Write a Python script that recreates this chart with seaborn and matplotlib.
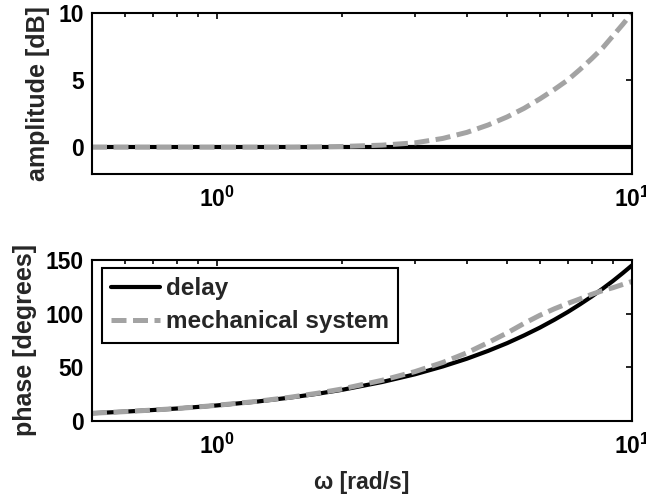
import numpy as np
import pandas as pd
import matplotlib
matplotlib.use("Agg")
import matplotlib.pyplot as plt
import seaborn as sns
from matplotlib.ticker import FixedLocator, NullFormatter

# ---- data ----
omega = [0.5, 0.6, 0.7, 0.8, 0.9, 1.0, 1.25, 1.5, 1.75, 2.0, 2.5, 3.0, 3.5,
         4.0, 4.5, 5.0, 5.5, 6.0, 6.5, 7.0, 7.5, 8.0, 8.5, 9.0, 9.5, 10.0]
amp_delay = [0.0] * 26
amp_mech = [0.0, 0.0, 0.0, 0.0, 0.0, 0.0, 0.0, 0.0, 0.02, 0.05, 0.15, 0.32, 0.65,
            1.1, 1.65, 2.25, 2.9, 3.6, 4.3, 5.0, 5.8, 6.6, 7.4, 8.3, 9.15, 10.0]
phase_delay = [7.2, 8.7, 10.2, 11.6, 13.1, 14.5, 18.1, 21.8, 25.4, 29.0, 36.3, 43.5, 50.8,
               58.0, 65.3, 72.5, 79.8, 87.0, 94.3, 101.5, 108.8, 116.0, 123.3, 130.5, 137.8, 145.0]
phase_mech = [7.2, 8.7, 10.2, 11.6, 13.1, 14.6, 18.3, 22.1, 25.9, 29.8, 37.9, 46.0, 54.5,
              63.5, 73.0, 82.0, 91.0, 98.5, 104.5, 109.5, 113.8, 118.0, 121.5, 124.2, 127.2, 130.0]
labels = ["delay", "mechanical system"]
amp_yticks = [0, 5, 10]
phase_yticks = [0, 50, 100, 150]
xtick_vals = [1, 10]
xtick_labels = [r"$\mathbf{10^{0}}$", r"$\mathbf{10^{1}}$"]

sns.set_theme(style="white")
plt.rcParams["font.family"] = ["Liberation Sans", "DejaVu Sans"]
plt.rcParams["font.weight"] = "bold"
plt.rcParams["axes.labelweight"] = "bold"
plt.rcParams["mathtext.fontset"] = "custom"
plt.rcParams["mathtext.bf"] = "Liberation Sans:bold"
plt.rcParams["mathtext.rm"] = "Liberation Sans:bold"

GRAY = "#a3a3a3"
fig = plt.figure(figsize=(6.46, 4.94), dpi=100)
ax1 = fig.add_axes([0.1424, 0.6478, 0.8359, 0.3259])
ax2 = fig.add_axes([0.1424, 0.1478, 0.8359, 0.3259])

df_amp = pd.DataFrame({"omega": omega, "delay": amp_delay, "mech": amp_mech})
df_ph = pd.DataFrame({"omega": omega, "delay": phase_delay, "mech": phase_mech})

for ax, df in [(ax1, df_amp), (ax2, df_ph)]:
    sns.lineplot(data=df, x="omega", y="delay", ax=ax, color="black",
                 linewidth=3.0, label=labels[0], legend=False)
    sns.lineplot(data=df, x="omega", y="mech", ax=ax, color=GRAY,
                 linewidth=3.6, label=labels[1], legend=False)
    ax.lines[-1].set_dashes((3.0, 1.3))
    ax.lines[-1].set_dash_capstyle("butt")
    ax.set_xscale("log")
    ax.set_xlim(0.5, 10)
    ax.xaxis.set_major_locator(FixedLocator(xtick_vals))
    ax.set_xticklabels(xtick_labels)
    ax.xaxis.set_minor_locator(FixedLocator([0.5, 0.6, 0.7, 0.8, 0.9, 2, 3, 4, 5, 6, 7, 8, 9]))
    ax.xaxis.set_minor_formatter(NullFormatter())
    ax.tick_params(axis="both", which="both", direction="in", top=True, right=True,
                   colors="black", width=1.2)
    ax.tick_params(axis="both", which="major", length=4, labelsize=16.5, pad=6)
    ax.tick_params(axis="x", which="major", pad=9)
    ax.tick_params(axis="both", which="minor", length=3)
    for sp in ax.spines.values():
        sp.set_color("black")
        sp.set_linewidth(1.5)

ax1.set_ylim(-2, 10)
ax1.set_yticks(amp_yticks)
ax1.set_ylabel("amplitude [dB]", fontsize=18, fontweight="bold", labelpad=6)
ax1.set_xlabel("")

ax2.set_ylim(0, 150)
ax2.set_yticks(phase_yticks)
ax2.set_ylabel("phase [degrees]", fontsize=18, fontweight="bold", labelpad=6)
ax2.set_xlabel("ω [rad/s]", fontsize=16.5, fontweight="bold", labelpad=9)

for ax in (ax1, ax2):
    for t in ax.get_yticklabels():
        t.set_fontweight("bold")

leg = ax2.legend(loc="upper left", bbox_to_anchor=(0.0185, 0.950), borderaxespad=0,
                 prop={"weight": "bold", "size": 17.5}, frameon=True, fancybox=False,
                 handlelength=2.0, handletextpad=0.25, labelspacing=0.42, borderpad=0.38)
leg.get_frame().set_edgecolor("black")
leg.get_frame().set_linewidth(1.5)
leg.get_frame().set_alpha(1)

fig.savefig("out.png", dpi=100)
